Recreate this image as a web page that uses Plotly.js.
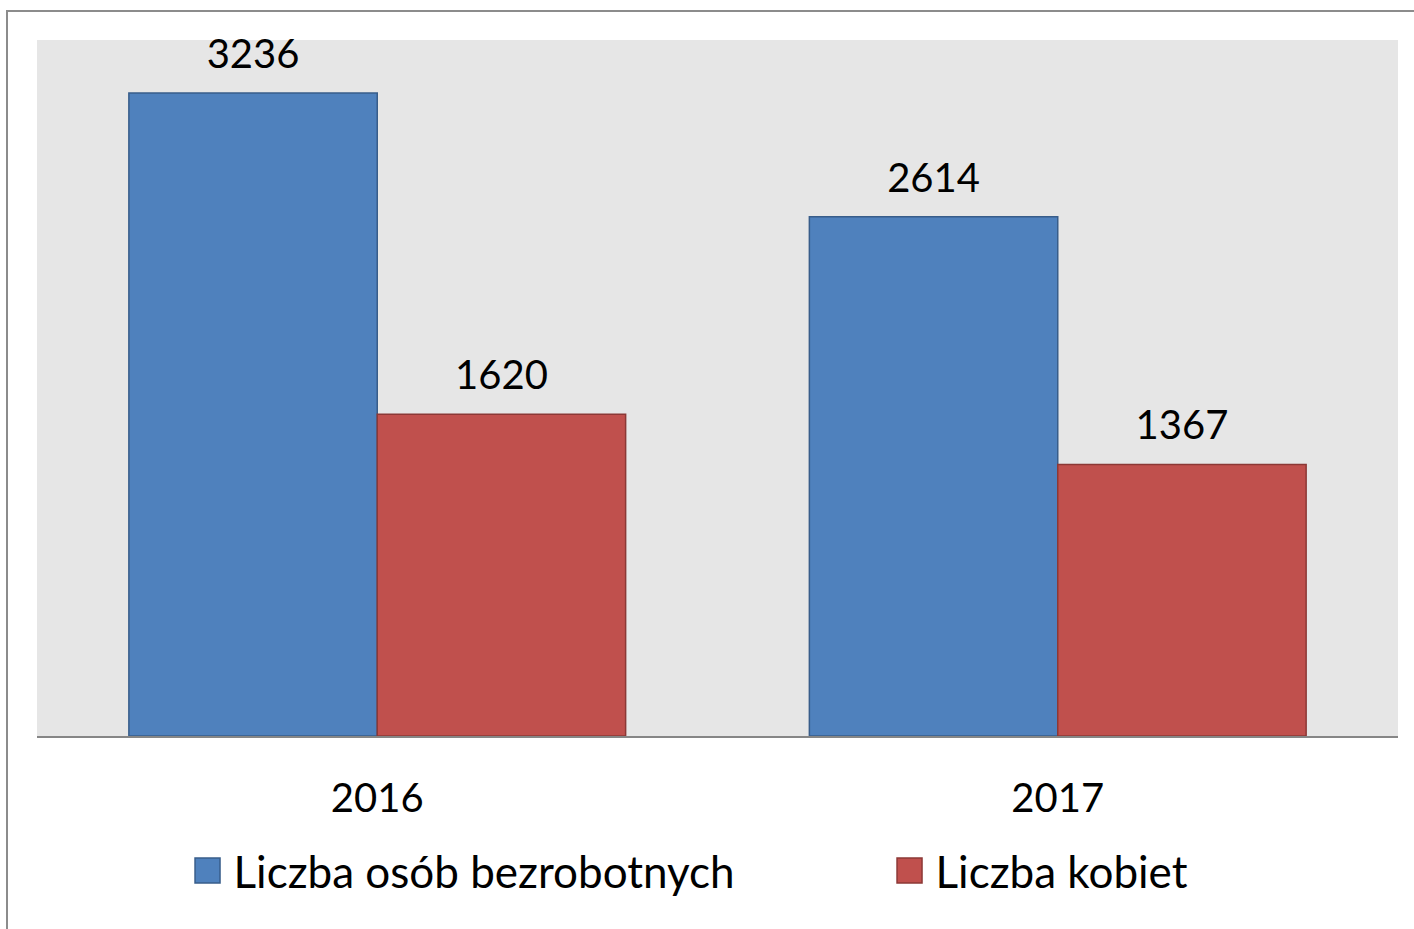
<!DOCTYPE html>
<html>
<head>
<meta charset="utf-8">
<script src="https://cdn.plot.ly/plotly-3.0.1.min.js"></script>
<style>
  html, body { margin: 0; padding: 0; background: #ffffff; overflow: hidden; }
  #wrap { position: relative; width: 1414px; height: 929px; }
  #chart { position: absolute; left: 0; top: 0; width: 1414px; height: 929px; }
  #frame { position: absolute; left: 6px; top: 10px; width: 1430px; height: 940px;
           border: 2px solid #8c8c8c; pointer-events: none; box-sizing: border-box; }
</style>
</head>
<body>
<div id="wrap">
  <div id="chart"></div>
  <div id="frame"></div>
</div>
<script>
const categories = ['2016', '2017'];
const seriesNames = ['Liczba osób bezrobotnych', 'Liczba kobiet'];
const unemployed = [3236, 2614];
const women = [1620, 1367];

const FONT = 'Lato, "Open Sans", sans-serif';

const traces = [
  {
    type: 'bar', name: seriesNames[0], x: categories, y: unemployed,
    text: unemployed.map(String), textposition: 'outside', cliponaxis: false,
    textfont: {family: FONT, size: 40, color: '#000000'},
    marker: {color: '#4F81BD', line: {color: '#385D8A', width: 1.5}},
    legend: 'legend', hoverinfo: 'x+y'
  },
  {
    type: 'bar', name: seriesNames[1], x: categories, y: women,
    text: women.map(String), textposition: 'outside', cliponaxis: false,
    textfont: {family: FONT, size: 40, color: '#000000'},
    marker: {color: '#C0504D', line: {color: '#8C3836', width: 1.5}},
    legend: 'legend2', hoverinfo: 'x+y'
  }
];

const legendCommon = {
  orientation: 'h', xanchor: 'left', y: -0.194, yanchor: 'middle',
  font: {family: FONT, size: 44, color: '#000000'},
  itemwidth: 36,
  bgcolor: 'rgba(0,0,0,0)', itemclick: false, itemdoubleclick: false
};

const layout = {
  width: 1414, height: 929,
  margin: {l: 37, r: 16, t: 40, b: 193, autoexpand: false},
  paper_bgcolor: 'rgba(0,0,0,0)',
  plot_bgcolor: '#E6E6E6',
  barmode: 'group', bargap: 0.27, bargroupgap: 0,
  font: {family: FONT, size: 40, color: '#000000'},
  xaxis: {
    type: 'category', showline: true, linecolor: '#868686', linewidth: 2,
    ticks: '', showgrid: false, zeroline: false,
    tickfont: {family: FONT, size: 40, color: '#000000'},
    ticklabelstandoff: 26
  },
  yaxis: {range: [0, 3503], showticklabels: false, showgrid: false, zeroline: false, ticks: '', showline: false},
  showlegend: true,
  legend: Object.assign({}, legendCommon, {x: 0.1106}),
  legend2: Object.assign({}, legendCommon, {x: 0.6264})
};

Plotly.newPlot('chart', traces, layout, {displayModeBar: false, staticPlot: true}).then(function (gd) {
  // enlarge legend swatches to match the reference
  gd.querySelectorAll('.legendpoints path').forEach(function (p) {
    p.setAttribute('d', 'M9.5,12.5H-15.5V-12.5H9.5Z');
  });
  // lift the value labels slightly higher above the bars, as in the reference
  gd.querySelectorAll('.bartext').forEach(function (t) {
    const tr = t.getAttribute('transform') || '';
    t.setAttribute('transform', 'translate(0,-13) ' + tr);
  });
});
</script>
</body>
</html>
